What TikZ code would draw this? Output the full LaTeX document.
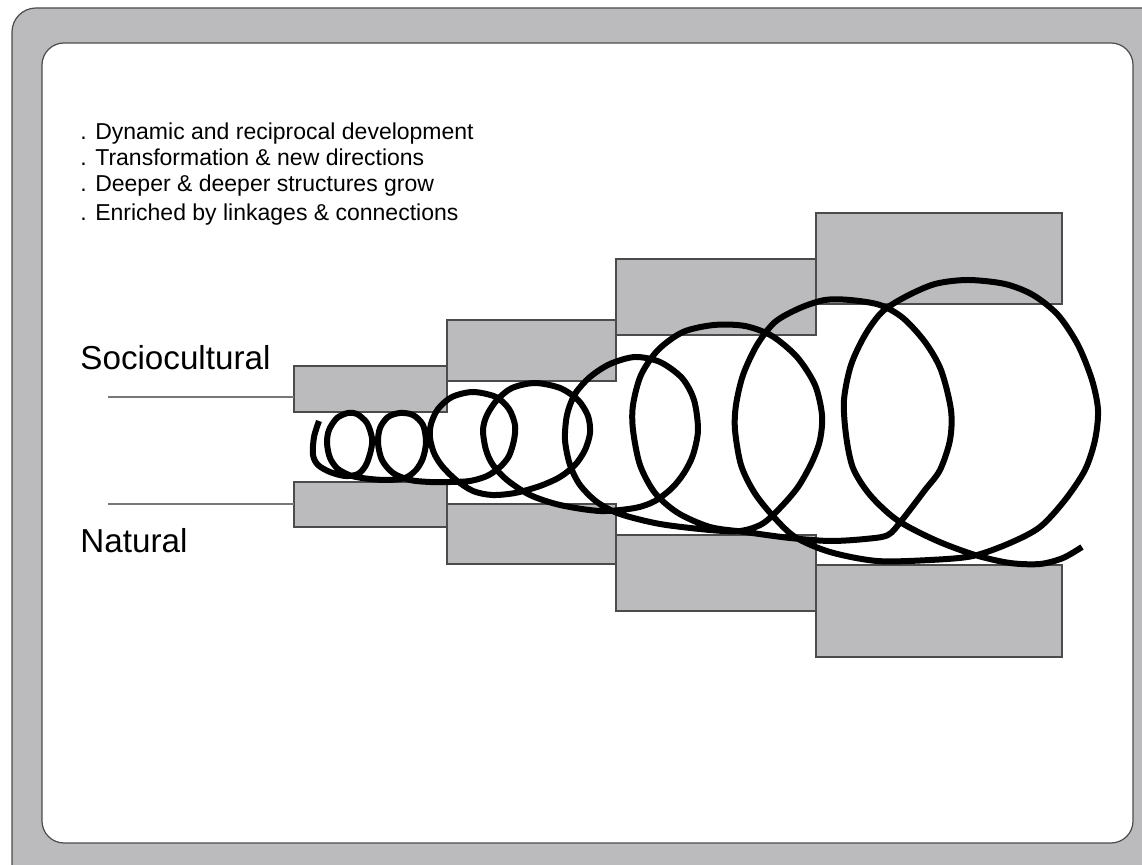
\documentclass[tikz,border=0pt]{standalone}
\usepackage{fontspec}
\setmainfont{Liberation Sans}
\definecolor{boxgray}{RGB}{187,187,189}
\definecolor{edgegray}{RGB}{75,75,75}
\definecolor{linegray}{RGB}{120,120,120}
\tikzset{
  gbox/.style={fill=boxgray,draw=edgegray,line width=0.6pt,inner sep=0pt,outer sep=0pt,anchor=north west},
  hline/.style={draw=linegray,line width=0.7pt},
  coil/.style={draw=black,line width=3pt,line join=round},
  smalltxt/.style={anchor=base west,inner sep=0pt,font=\fontsize{11.5pt}{13pt}\selectfont},
  bigtxt/.style={anchor=base west,inner sep=0pt,font=\fontsize{16.6pt}{19pt}\selectfont}
}
\begin{document}
\begin{tikzpicture}[x=0.5pt,y=-0.5pt]
\useasboundingbox (0,0) rectangle (1142,865);
\clip (0,0) rectangle (1142,865);
% frame
\draw[fill=boxgray,draw=edgegray,line width=0.6pt,rounded corners=12pt] (12,8) rectangle (1220,940);
\draw[fill=white,draw=edgegray,line width=0.6pt,rounded corners=11pt] (42,43) rectangle (1133,843);
% text
\node[smalltxt] (t1) at (80,140) {. Dynamic and reciprocal development};
\node[smalltxt] (t2) at (80,166) {. Transformation \& new directions};
\node[smalltxt] (t3) at (80,192) {. Deeper \& deeper structures grow};
\node[smalltxt] (t4) at (80,221) {. Enriched by linkages \& connections};
\node[bigtxt] (soc) at (80,370) {Sociocultural};
\node[bigtxt] (nat) at (80,553) {Natural};
% boxes
\node[gbox,minimum width=76.5pt,minimum height=23pt] (s1) at (294,366) {};
\node[gbox,minimum width=76.5pt,minimum height=22.5pt] (n1) at (294,482) {};
\node[gbox,minimum width=84.5pt,minimum height=30.5pt] (s2) at (447,320) {};
\node[gbox,minimum width=84.5pt,minimum height=30pt] (n2) at (447,504) {};
\node[gbox,minimum width=100pt,minimum height=38pt] (s3) at (616,259) {};
\node[gbox,minimum width=100pt,minimum height=38pt] (n3) at (616,535) {};
\node[gbox,minimum width=123pt,minimum height=45.5pt] (s4) at (816,213) {};
\node[gbox,minimum width=123pt,minimum height=46pt] (n4) at (816,565) {};
% connector lines
\coordinate (ls) at (108,397);
\coordinate (ln) at (108,504);
\draw[hline] (ls) -- (ls -| s1.west);
\draw[hline] (ln) -- (ln -| n1.west);
% coil
\draw[coil] plot[smooth,tension=0.5] coordinates {
(319,421) (314,437) (313,455) (318,465) (330,472) (345,476) (358,474) (366,465)
(371,450) (372,438) (367,423) (357,414) (348,413) (337,418) (329,430) (327,443)
(330,458) (338,469) (352,476) (370,479) (388,480) (405,478) (416,470) (423,458)
(426,442) (423,425) (413,415) (400,413) (388,417) (380,428) (378,443) (382,460)
(393,473) (410,480) (430,482) (450,482) (470,481) (487,476) (500,467) (509,456)
(514,440) (515,425) (509,409) (496,397) (473,392) (452,397) (438,409) (431,424)
(430,438) (434,453) (442,466) (456,480) (473,491) (492,495) (515,493) (540,486)
(560,477) (575,465) (585,450) (590,433) (588,416) (578,400) (560,388) (535,383)
(512,388) (497,400) (487,415) (483,430) (486,450) (493,465) (507,480) (530,495)
(560,505) (600,511) (635,508) (655,501) (672,488) (684,473) (693,455) (698,430)
(694,400) (682,378) (660,362) (635,357) (610,364) (590,377) (575,394) (567,415)
(565,440) (570,465) (580,485) (597,502) (620,514) (660,524) (710,530) (740,531)
(762,524) (780,508) (798,487) (812,462) (820,440) (822,415) (815,385) (797,357)
(772,336) (745,326) (714,325) (683,332) (658,350) (641,375) (633,405) (633,430)
(640,465) (655,493) (678,513) (710,527) (745,532) (790,538) (830,541) (865,539)
(888,535) (902,520) (925,490) (940,470) (950,440) (951,410) (941,370) (925,342)
(903,318) (880,305) (850,300) (825,300) (800,308) (775,322) (757,345) (743,375)
(736,405) (735,430) (741,465) (754,492) (772,515) (795,537) (830,552) (877,561)
(930,560) (973,556) (1010,543) (1040,527) (1065,500) (1085,470) (1095,440) (1098,410)
(1092,380) (1078,345) (1058,315) (1033,295) (1005,284) (968,280) (935,284) (905,297)
(882,312) (865,335) (851,365) (844,400) (846,435) (853,468) (870,495) (897,520)
(935,540) (975,555) (1010,563) (1040,564) (1063,558) (1082,547)
};
\end{tikzpicture}
\end{document}
